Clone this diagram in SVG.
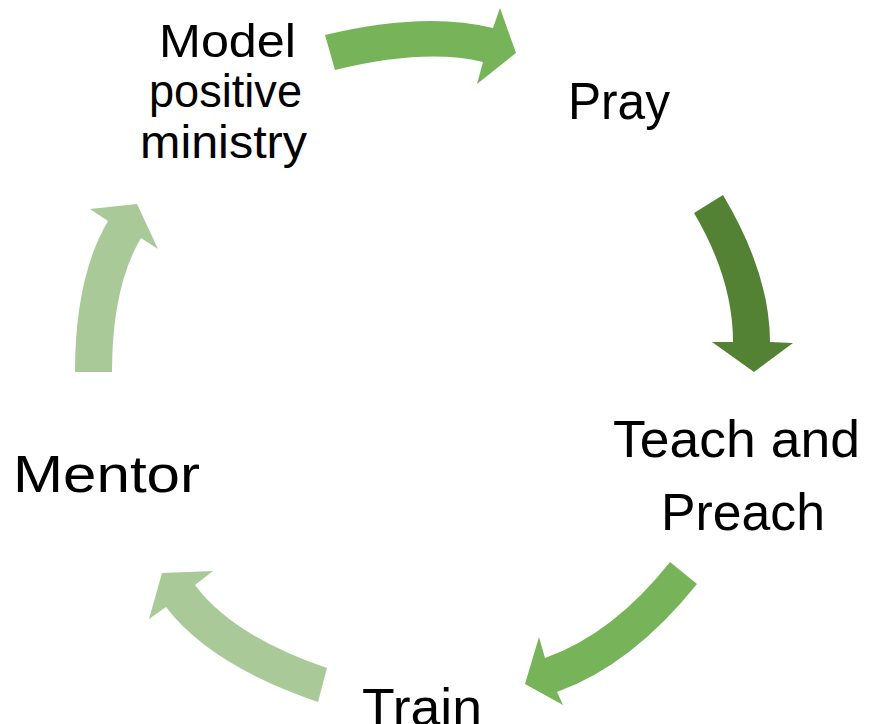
<svg xmlns="http://www.w3.org/2000/svg" width="869" height="724" viewBox="0 0 869 724">
<style>
.lbl{font-family:"Liberation Sans",Arial,sans-serif;fill:#000;}
.big{font-size:52px;}
.mid{font-size:47px;}
.g1{fill:#77B358;}
.g2{fill:#548235;}
.g3{fill:#A9CA98;}
</style>
<rect width="869" height="724" fill="#fff"/>
<g id="connectors">
<path class="g1" d="M325,35 Q424,11 493,28 L500,8 L516,53 L477,84 L483,62 Q425,48 335,70 Z"/>
<path class="g2" d="M694,213 L723,195 Q770,274 770,342 L793,343 L754,372 L712,342 L733,342 Q733,279 694,213 Z"/>
<path class="g1" d="M670,562 L697,584 Q632,665 557,692 L563,705 L525,684 L539,637 L545,658 Q613,634 670,562 Z"/>
<path class="g3" d="M318,702 L327,668 Q233,636 195,585 L213,571 L162,573 L149,619 L166,607 Q210,665 318,702 Z"/>
<path class="g3" d="M75,372 Q75,277 108,221 L90,209 L137,204 L158,249 L141,238 Q112,287 112,372 Z"/>
</g>
<g id="node-model">
<text class="lbl mid" x="159" y="57" textLength="137" lengthAdjust="spacingAndGlyphs">Model</text>
<text class="lbl mid" x="149" y="107" textLength="153" lengthAdjust="spacingAndGlyphs">positive</text>
<text class="lbl mid" x="140" y="158" textLength="167" lengthAdjust="spacingAndGlyphs">ministry</text>
</g>
<g id="node-pray">
<text class="lbl big" x="568" y="119" textLength="102" lengthAdjust="spacingAndGlyphs">Pray</text>
</g>
<g id="node-teach">
<text class="lbl big" x="613" y="457" textLength="247" lengthAdjust="spacingAndGlyphs">Teach and</text>
<text class="lbl big" x="661" y="530" textLength="164" lengthAdjust="spacingAndGlyphs">Preach</text>
</g>
<g id="node-train">
<text class="lbl big" x="362" y="725" textLength="120" lengthAdjust="spacingAndGlyphs">Train</text>
</g>
<g id="node-mentor">
<text class="lbl big" x="13" y="492" textLength="187" lengthAdjust="spacingAndGlyphs">Mentor</text>
</g>
</svg>
